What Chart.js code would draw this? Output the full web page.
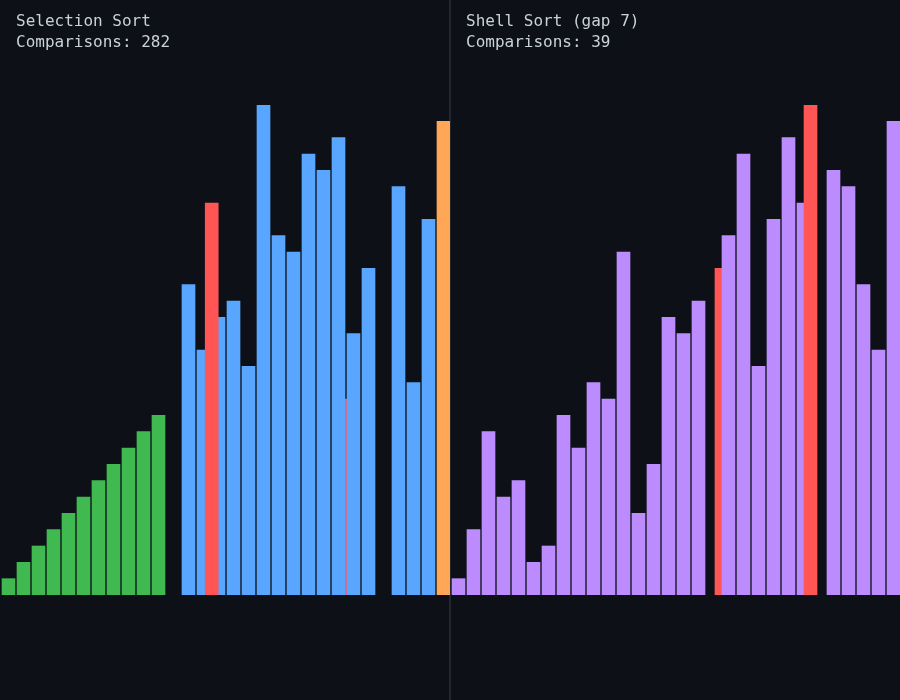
<!DOCTYPE html>
<html>
<head>
<meta charset="utf-8">
<title>Sorting</title>
<script src="https://cdn.jsdelivr.net/npm/chart.js@4.4.1/dist/chart.umd.min.js"></script>
<style>
    html, body {
        margin: 0;
        padding: 0;
        background: #0d1117;
    }
    #wrap {
        position: relative;
        width: 900px;
        height: 700px;
        overflow: hidden;
    }
    .panel {
        position: absolute;
        top: 0;
        width: 450px;
        height: 700px;
    }
    .label {
        position: absolute;
        left: 16px;
        top: 10px;
        font-family: "DejaVu Sans Mono", monospace;
        font-size: 16px;
        line-height: 21px;
        color: #c9d1d9;
        white-space: pre;
    }
    #divider {
        position: absolute;
        left: 449px;
        top: 0;
        width: 2px;
        height: 700px;
        background: #22272f;
    }
</style>
</head>
<body>
<div id="wrap">
    <div id="divider"></div>
    <div class="panel" style="left:0">
        <canvas id="selection" width="450" height="700"></canvas>
        <div class="label" id="selTitle"></div>
    </div>
    <div class="panel" style="left:450px">
        <canvas id="shell" width="450" height="700"></canvas>
        <div class="label" id="shellTitle"></div>
    </div>
</div>
<script>
// valores de cada ranura (ya intercambiados)
const selectionValues = [1, 2, 3, 4, 5, 6, 7, 8, 9, 10, 11, 12, 19, 15, 17, 18, 14, 30, 22, 21, 27, 26, 28, 16, 20, 24, 25, 13, 23, 29];
const shellValues = [1, 4, 10, 6, 7, 2, 3, 11, 9, 13, 12, 21, 5, 8, 17, 16, 18, 20, 22, 27, 14, 23, 28, 24, 30, 26, 25, 19, 15, 29];

// intercambio en curso: [ranura a, ranura b], progreso 0..1
const selectionSwap = [11, 25];
const selectionProgress = 0.182;
const shellSwap = [17, 24];
const shellProgress = 0.924;

const selectionSorted = 11;   // barras verdes al inicio
const selectionMarker = 29;   // barra naranja

const selectionTitle = ["Selection Sort", "Comparisons: 282"];
const shellTitle = ["Shell Sort (gap 7)", "Comparisons: 39"];

const colors = {
    sorted: "#3fb950",
    normal: "#58a6ff",
    marker: "#ffa657",
    swap: "#ff5555",
    shell: "#bc8cff"
};

document.querySelector("#selTitle").textContent = selectionTitle.join("\n");
document.querySelector("#shellTitle").textContent = shellTitle.join("\n");

// posicion en el eje x de cada ranura, con las dos barras que se mueven
function posiciones(n, swap, t) {
    let xs = [];
    for (let i = 0; i < n; i++) xs.push(i);
    const a = swap[0], b = swap[1];
    xs[a] = b + (a - b) * t;
    xs[b] = a + (b - a) * t;
    return xs;
}

function grafico(id, values, swap, t, colorFn) {
    const xs = posiciones(values.length, swap, t);
    new Chart(id, {
        type: "bar",
        data: {
            datasets: [{
                data: values.map((v, i) => ({ x: xs[i], y: v })),
                backgroundColor: values.map((v, i) => colorFn(i)),
                borderWidth: 0,
                barThickness: 13
            }]
        },
        options: {
            responsive: false,
            devicePixelRatio: 1,
            animation: false,
            layout: {
                padding: { top: 105, bottom: 105, left: 0, right: 0 }
            },
            plugins: {
                legend: { display: false },
                tooltip: { enabled: false }
            },
            scales: {
                x: {
                    type: "linear",
                    display: false,
                    offset: false,
                    bounds: "data",
                    min: -8.5 / 15,
                    max: 30 - 8.5 / 15
                },
                y: {
                    display: false,
                    min: 0,
                    max: 30
                }
            }
        }
    });
}

grafico("selection", selectionValues, selectionSwap, selectionProgress, (i) => {
    if (selectionSwap.includes(i)) return colors.swap;
    if (i < selectionSorted) return colors.sorted;
    if (i === selectionMarker) return colors.marker;
    return colors.normal;
});

grafico("shell", shellValues, shellSwap, shellProgress, (i) => {
    if (shellSwap.includes(i)) return colors.swap;
    return colors.shell;
});
</script>
</body>
</html>
